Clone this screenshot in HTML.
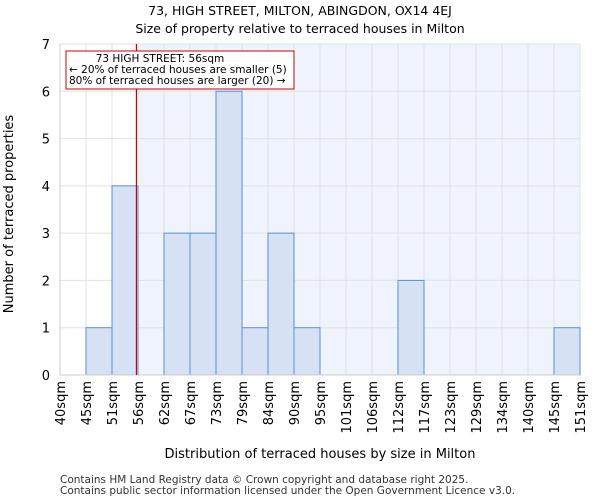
<!DOCTYPE html>
<html><head><meta charset="utf-8"><style>
body{margin:0;background:#fff;font-family:"DejaVu Sans","Liberation Sans",sans-serif;}
</style></head><body>
<svg width="600" height="500" xmlns="http://www.w3.org/2000/svg" font-family="DejaVu Sans, Liberation Sans, sans-serif">
<g id="g"></g>
</svg>
<script>
const binLabels=["40sqm","45sqm","51sqm","56sqm","62sqm","67sqm","73sqm","79sqm","84sqm","90sqm","95sqm","101sqm","106sqm","112sqm","117sqm","123sqm","129sqm","134sqm","140sqm","145sqm","151sqm"];
const counts=[0,1,4,0,3,3,6,1,3,1,0,0,0,2,0,0,0,0,0,1];
const yTicks=[0,1,2,3,4,5,6,7];
const markerPos=2.94;
const L=60,R=580,T=44,B=375,yMax=7;
const ns="http://www.w3.org/2000/svg";
const g=document.getElementById('g');
const nb=binLabels.length-1;
const x=i=>L+(R-L)*i/nb;
const y=v=>B-(B-T)*v/yMax;
function mk(t,a,txt){const e=document.createElementNS(ns,t);for(const k in a)e.setAttribute(k,a[k]);if(txt!=null)e.textContent=txt;g.appendChild(e);return e;}
let e;
e=mk('rect',{x:x(markerPos),y:T,width:R-x(markerPos),height:B-T,fill:'#eef3fc'});


for(let i=0;i<=nb;i++){e=mk('line',{x1:x(i),x2:x(i),y1:T,y2:B,stroke:'#e2e2e2','stroke-width':1});

}
yTicks.forEach(v=>{e=mk('line',{x1:L,x2:R,y1:y(v),y2:y(v),stroke:'#e2e2e2','stroke-width':1});


e=mk('text',{x:L-10,y:y(v)+5,'text-anchor':'end','font-size':13,fill:'#000'},v);

});
counts.forEach((c,i)=>{if(i>=nb||c<=0)return;e=mk('rect',{x:x(i),y:y(c),width:x(i+1)-x(i),height:B-y(c),fill:'#d6e2f3',stroke:'#5b8fd8','stroke-width':1});

});
binLabels.forEach((l,i)=>{const xx=x(i);e=mk('text',{x:0,y:0,'font-size':13,'text-anchor':'end',transform:`translate(${xx+5},${B+6}) rotate(-90)`},l);

});
e=mk('line',{x1:L,x2:L,y1:T,y2:B,stroke:'#ccc'});
e=mk('line',{x1:L,x2:R,y1:B,y2:B,stroke:'#ccc'});
e=mk('line',{x1:x(markerPos),x2:x(markerPos),y1:T,y2:B,stroke:'#cc0000','stroke-width':1.2});


e=mk('rect',{x:66,y:51,width:228,height:38,fill:'#fff',stroke:'#cc0000','stroke-width':1});


[["73 HIGH STREET: 56sqm",160,62,'middle'],["← 20% of terraced houses are smaller (5)",69,73,'start'],["80% of terraced houses are larger (20) →",69,84,'start']].forEach(([t,xx,yy,an])=>{
e=mk('text',{x:xx,y:yy,'text-anchor':an,'font-size':10.5},t);

});
e=mk('text',{x:300,y:15,'text-anchor':'middle','font-size':12.5},'73, HIGH STREET, MILTON, ABINGDON, OX14 4EJ');

e=mk('text',{x:300,y:33,'text-anchor':'middle','font-size':12.5},'Size of property relative to terraced houses in Milton');

e=mk('text',{x:320,y:458,'text-anchor':'middle','font-size':13},'Distribution of terraced houses by size in Milton');

e=mk('text',{x:0,y:0,'text-anchor':'middle','font-size':13,transform:'translate(13,214) rotate(-90)'},'Number of terraced properties');

e=mk('text',{x:60,y:483,'font-size':10.5,fill:'#333'},'Contains HM Land Registry data © Crown copyright and database right 2025.');

e=mk('text',{x:60,y:494,'font-size':10.5,fill:'#333'},'Contains public sector information licensed under the Open Government Licence v3.0.');

</script>
</body></html>
